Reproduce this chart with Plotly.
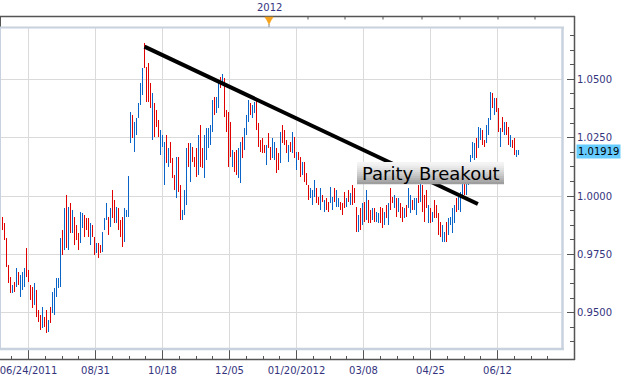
import plotly.graph_objects as go

# ---------------- data (daily OHLC) ----------------
opens = [
    0.9803, 0.9902, 0.9872, 0.9812, 0.9696, 0.9645, 0.9593, 0.9623, 0.9619, 0.9666,
    0.9585, 0.9610, 0.9619, 0.9692, 0.9675, 0.9610, 0.9598, 0.9542, 0.9585, 0.9503,
    0.9482, 0.9444, 0.9473, 0.9499, 0.9426, 0.9512, 0.9508, 0.9508, 0.9576, 0.9615,
    0.9619, 0.9838, 0.9782, 0.9940, 0.9786, 0.9949, 0.9851, 0.9898, 0.9868, 0.9833,
    0.9808, 0.9872, 0.9906, 0.9898, 0.9894, 0.9799, 0.9868, 0.9816, 0.9765, 0.9786,
    0.9782, 0.9769, 0.9864, 0.9906, 0.9902, 0.9876, 1.0013, 0.9970, 0.9894, 0.9936,
    0.9889, 0.9898, 0.9816, 0.9915, 0.9919, 1.0240,
    1.0334, 1.0202, 1.0270, 1.0343, 1.0399, 1.0441, 1.0583, 1.0540, 1.0549, 1.0467,
    1.0262, 1.0386, 1.0360, 1.0317, 1.0189, 1.0219, 1.0064, 1.0249, 1.0133, 1.0219,
    1.0155, 1.0082, 1.0005, 1.0155, 1.0034, 0.9906, 0.9928, 0.9979, 1.0215, 1.0073,
    1.0202, 1.0159, 1.0193, 1.0103, 1.0287, 1.0197, 1.0090, 1.0167, 1.0215, 1.0227,
    1.0287, 1.0416, 1.0364, 1.0390, 1.0501, 1.0484, 1.0493, 1.0360, 1.0339, 1.0304,
    1.0133, 1.0180, 1.0185, 1.0090, 1.0069, 1.0245, 1.0206, 1.0270, 1.0326, 1.0390,
    1.0343, 1.0364, 1.0407, 1.0304,
    1.0232, 1.0240, 1.0215, 1.0142, 1.0262, 1.0202, 1.0172, 1.0163, 1.0193, 1.0176,
    1.0150, 1.0296, 1.0275, 1.0232, 1.0155, 1.0223, 1.0193, 1.0245, 1.0120, 1.0185,
    1.0159, 1.0099, 1.0137, 1.0090, 1.0039, 1.0000, 0.9970, 1.0005, 1.0026, 0.9987,
    0.9949, 1.0000, 0.9940, 0.9983, 0.9966, 0.9979, 0.9949, 1.0026, 0.9962, 0.9962,
    0.9970, 0.9962, 1.0009, 0.9962, 1.0017, 0.9970, 1.0039, 1.0026, 0.9945, 0.9855,
    0.9940, 0.9885, 0.9966, 0.9906, 0.9975, 0.9932, 0.9906, 0.9940, 0.9898, 0.9894,
    0.9945, 0.9940, 0.9885,
    0.9953, 0.9885, 1.0026, 0.9992, 0.9957, 0.9983, 0.9940, 0.9962, 0.9945, 0.9915,
    0.9953, 0.9957, 0.9936, 0.9975, 0.9949, 0.9928, 1.0039, 0.9983, 1.0039, 0.9996,
    1.0017, 0.9894, 0.9940, 0.9898, 0.9975, 0.9953, 0.9919, 0.9881, 0.9812, 0.9812,
    0.9881, 0.9842, 0.9885, 0.9851, 0.9894, 0.9983, 0.9949, 0.9940, 1.0000, 1.0047,
    1.0013, 1.0056, 1.0112, 1.0172, 1.0163, 1.0240, 1.0215, 1.0249, 1.0275, 1.0236,
    1.0236, 1.0270, 1.0334, 1.0433, 1.0356, 1.0412, 1.0369, 1.0219, 1.0330, 1.0270,
    1.0309, 1.0287, 1.0219, 1.0232, 1.0240, 1.0172, 1.0180,
]

highs = [
    0.9885, 0.9911, 0.9885, 0.9821, 0.9705, 0.9653, 0.9619, 0.9632, 0.9692, 0.9675,
    0.9662, 0.9675, 0.9692, 0.9777, 0.9683, 0.9619, 0.9610, 0.9628, 0.9598, 0.9512,
    0.9491, 0.9525, 0.9482, 0.9512, 0.9469, 0.9525, 0.9589, 0.9606, 0.9649, 0.9649,
    0.9821, 0.9855, 0.9949, 1.0005, 0.9953, 0.9970, 0.9940, 0.9911, 0.9876, 0.9842,
    0.9932, 0.9928, 0.9919, 0.9906, 0.9906, 0.9885, 0.9876, 0.9825, 0.9799, 0.9799,
    0.9790, 0.9846, 0.9906, 0.9970, 0.9911, 0.9949, 1.0026, 0.9983, 0.9953, 0.9949,
    0.9898, 0.9911, 0.9949, 0.9940, 1.0086, 1.0360,
    1.0347, 1.0317, 1.0334, 1.0399, 1.0484, 1.0549, 1.0656, 1.0553, 1.0570, 1.0484,
    1.0441, 1.0399, 1.0369, 1.0326, 1.0283, 1.0262, 1.0232, 1.0262, 1.0206, 1.0232,
    1.0163, 1.0090, 1.0167, 1.0167, 1.0047, 0.9940, 1.0026, 1.0206, 1.0227, 1.0227,
    1.0210, 1.0167, 1.0206, 1.0262, 1.0304, 1.0206, 1.0262, 1.0292, 1.0292, 1.0304,
    1.0412, 1.0424, 1.0424, 1.0497, 1.0510, 1.0523, 1.0506, 1.0369, 1.0360, 1.0317,
    1.0197, 1.0189, 1.0197, 1.0206, 1.0232, 1.0253, 1.0292, 1.0347, 1.0412, 1.0399,
    1.0390, 1.0403, 1.0420, 1.0313,
    1.0240, 1.0249, 1.0219, 1.0219, 1.0270, 1.0210, 1.0249, 1.0232, 1.0206, 1.0185,
    1.0275, 1.0304, 1.0283, 1.0240, 1.0219, 1.0232, 1.0275, 1.0253, 1.0189, 1.0189,
    1.0167, 1.0146, 1.0146, 1.0099, 1.0047, 1.0034, 1.0026, 1.0069, 1.0034, 0.9996,
    1.0034, 1.0005, 0.9983, 0.9992, 0.9975, 1.0039, 0.9996, 1.0034, 1.0026, 0.9992,
    0.9975, 0.9970, 1.0017, 0.9992, 1.0026, 1.0013, 1.0047, 1.0034, 0.9953, 0.9919,
    0.9949, 0.9970, 0.9975, 1.0026, 0.9983, 0.9940, 0.9949, 0.9949, 0.9932, 0.9928,
    0.9953, 0.9949, 0.9932,
    0.9962, 0.9970, 1.0034, 0.9996, 1.0005, 0.9992, 0.9992, 0.9970, 0.9953, 0.9949,
    0.9962, 1.0034, 1.0005, 0.9983, 0.9992, 0.9992, 1.0047, 1.0056, 1.0047, 1.0005,
    1.0026, 0.9962, 0.9949, 0.9932, 0.9983, 0.9962, 0.9928, 0.9889, 0.9876, 0.9846,
    0.9889, 0.9906, 0.9911, 0.9949, 0.9962, 0.9992, 0.9996, 1.0017, 1.0090, 1.0056,
    1.0060, 1.0133, 1.0176, 1.0232, 1.0227, 1.0249, 1.0296, 1.0292, 1.0283, 1.0240,
    1.0304, 1.0334, 1.0446, 1.0441, 1.0420, 1.0420, 1.0377, 1.0292, 1.0339, 1.0317,
    1.0317, 1.0296, 1.0262, 1.0240, 1.0249, 1.0197, 1.0197,
]

lows = [
    0.9777, 0.9855, 0.9812, 0.9696, 0.9628, 0.9585, 0.9585, 0.9589, 0.9610, 0.9619,
    0.9568, 0.9598, 0.9610, 0.9653, 0.9632, 0.9555, 0.9520, 0.9533, 0.9482, 0.9461,
    0.9426, 0.9435, 0.9439, 0.9413, 0.9418, 0.9456, 0.9499, 0.9491, 0.9568, 0.9606,
    0.9610, 0.9748, 0.9769, 0.9777, 0.9769, 0.9842, 0.9842, 0.9790, 0.9812, 0.9769,
    0.9799, 0.9864, 0.9825, 0.9855, 0.9825, 0.9790, 0.9825, 0.9748, 0.9756, 0.9735,
    0.9756, 0.9760, 0.9855, 0.9898, 0.9833, 0.9868, 0.9906, 0.9885, 0.9885, 0.9855,
    0.9825, 0.9782, 0.9803, 0.9911, 0.9911, 1.0227,
    1.0249, 1.0189, 1.0262, 1.0334, 1.0390, 1.0433, 1.0549, 1.0403, 1.0403, 1.0377,
    1.0240, 1.0253, 1.0296, 1.0253, 1.0176, 1.0210, 1.0047, 1.0142, 1.0125, 1.0142,
    1.0077, 1.0026, 0.9992, 1.0017, 0.9898, 0.9898, 0.9919, 0.9962, 1.0125, 1.0060,
    1.0146, 1.0125, 1.0082, 1.0090, 1.0125, 1.0120, 1.0077, 1.0155, 1.0206, 1.0219,
    1.0275, 1.0347, 1.0356, 1.0377, 1.0463, 1.0476, 1.0339, 1.0275, 1.0125, 1.0167,
    1.0125, 1.0103, 1.0090, 1.0077, 1.0056, 1.0163, 1.0197, 1.0262, 1.0317, 1.0347,
    1.0334, 1.0356, 1.0283, 1.0210,
    1.0189, 1.0185, 1.0185, 1.0133, 1.0206, 1.0155, 1.0163, 1.0155, 1.0099, 1.0112,
    1.0142, 1.0227, 1.0219, 1.0185, 1.0146, 1.0189, 1.0185, 1.0163, 1.0112, 1.0155,
    1.0082, 1.0090, 1.0060, 1.0047, 0.9983, 0.9992, 0.9962, 0.9996, 0.9970, 0.9962,
    0.9940, 0.9975, 0.9932, 0.9940, 0.9932, 0.9970, 0.9940, 0.9975, 0.9953, 0.9953,
    0.9940, 0.9919, 0.9949, 0.9953, 0.9975, 0.9962, 0.9962, 0.9970, 0.9846, 0.9846,
    0.9855, 0.9876, 0.9889, 0.9898, 0.9885, 0.9885, 0.9898, 0.9889, 0.9889, 0.9885,
    0.9885, 0.9864, 0.9876,
    0.9906, 0.9876, 0.9940, 0.9970, 0.9949, 0.9911, 0.9932, 0.9906, 0.9889, 0.9906,
    0.9911, 0.9949, 0.9928, 0.9940, 0.9940, 0.9919, 0.9970, 0.9975, 0.9932, 0.9889,
    0.9949, 0.9885, 0.9885, 0.9889, 0.9906, 0.9906, 0.9833, 0.9825, 0.9803, 0.9803,
    0.9803, 0.9833, 0.9876, 0.9842, 0.9885, 0.9932, 0.9940, 0.9932, 0.9992, 1.0005,
    1.0005, 1.0047, 1.0103, 1.0163, 1.0155, 1.0163, 1.0206, 1.0240, 1.0219, 1.0210,
    1.0227, 1.0262, 1.0326, 1.0377, 1.0347, 1.0360, 1.0275, 1.0210, 1.0275, 1.0262,
    1.0262, 1.0219, 1.0210, 1.0206, 1.0176, 1.0167, 1.0176,
]

closes = [
    0.9864, 0.9868, 0.9825, 0.9709, 0.9640, 0.9593, 0.9610, 0.9598, 0.9679, 0.9628,
    0.9649, 0.9662, 0.9683, 0.9662, 0.9640, 0.9563, 0.9533, 0.9615, 0.9499, 0.9469,
    0.9435, 0.9512, 0.9448, 0.9426, 0.9461, 0.9465, 0.9576, 0.9598, 0.9640, 0.9640,
    0.9812, 0.9760, 0.9936, 0.9790, 0.9940, 0.9851, 0.9932, 0.9803, 0.9821, 0.9777,
    0.9919, 0.9919, 0.9833, 0.9864, 0.9838, 0.9876, 0.9833, 0.9756, 0.9790, 0.9743,
    0.9765, 0.9833, 0.9898, 0.9962, 0.9842, 0.9940, 0.9919, 0.9894, 0.9945, 0.9864,
    0.9833, 0.9799, 0.9936, 0.9936, 1.0073, 1.0347,
    1.0262, 1.0304, 1.0326, 1.0390, 1.0476, 1.0536, 1.0558, 1.0420, 1.0416, 1.0386,
    1.0424, 1.0266, 1.0304, 1.0262, 1.0270, 1.0253, 1.0219, 1.0155, 1.0197, 1.0150,
    1.0086, 1.0034, 1.0150, 1.0034, 0.9906, 0.9932, 1.0013, 1.0189, 1.0133, 1.0210,
    1.0155, 1.0133, 1.0094, 1.0249, 1.0142, 1.0129, 1.0249, 1.0279, 1.0283, 1.0296,
    1.0399, 1.0356, 1.0416, 1.0484, 1.0471, 1.0514, 1.0356, 1.0283, 1.0142, 1.0176,
    1.0189, 1.0112, 1.0099, 1.0193, 1.0219, 1.0172, 1.0283, 1.0339, 1.0403, 1.0356,
    1.0382, 1.0394, 1.0296, 1.0219,
    1.0197, 1.0193, 1.0189, 1.0210, 1.0215, 1.0163, 1.0240, 1.0223, 1.0107, 1.0120,
    1.0262, 1.0236, 1.0227, 1.0193, 1.0210, 1.0197, 1.0266, 1.0172, 1.0180, 1.0163,
    1.0090, 1.0137, 1.0069, 1.0056, 0.9992, 1.0026, 1.0017, 1.0060, 0.9979, 0.9970,
    1.0022, 0.9979, 0.9975, 0.9949, 0.9940, 1.0030, 0.9987, 0.9983, 1.0017, 0.9983,
    0.9945, 0.9928, 0.9957, 0.9983, 0.9983, 1.0005, 0.9970, 0.9979, 0.9855, 0.9911,
    0.9864, 0.9962, 0.9898, 1.0013, 0.9894, 0.9894, 0.9940, 0.9898, 0.9923, 0.9919,
    0.9894, 0.9872, 0.9923,
    0.9915, 0.9962, 0.9953, 0.9975, 0.9996, 0.9919, 0.9983, 0.9915, 0.9898, 0.9940,
    0.9919, 1.0026, 0.9996, 0.9949, 0.9983, 0.9983, 0.9979, 1.0047, 0.9940, 0.9898,
    0.9957, 0.9953, 0.9894, 0.9923, 0.9915, 0.9915, 0.9842, 0.9833, 0.9868, 0.9838,
    0.9812, 0.9898, 0.9902, 0.9940, 0.9953, 0.9940, 0.9987, 1.0009, 1.0082, 1.0013,
    1.0052, 1.0125, 1.0167, 1.0223, 1.0219, 1.0172, 1.0287, 1.0283, 1.0227, 1.0215,
    1.0296, 1.0326, 1.0437, 1.0386, 1.0412, 1.0369, 1.0283, 1.0283, 1.0283, 1.0309,
    1.0270, 1.0227, 1.0253, 1.0210, 1.0185, 1.0189, 1.01919,
]

bar_index = list(range(len(closes)))

tick_bars = [14, 47.5, 81, 114.5, 148, 181.5, 215, 248.5]
tick_labels = ["06/24/2011", "08/31", "10/18", "12/05", "01/20/2012", "03/08", "04/25", "06/12"]
price_ticks_start = 0.95
price_tick_step = 0.025

year_bar = 134.25
year_label = "2012"
month_bars = [153.75, 172.25, 191.25, 210.75, 229.75, 248.75, 267.25]

trend_x = [72, 238.7]
trend_y = [1.0640, 0.9966]

note_text = "Parity Breakout"

# ---------------- geometry / style ----------------
W, H = 624, 382
ML, MR, MT, MB = 0, 50, 16, 22
PW = W - ML - MR
PH = H - MT - MB


def px(x):
    return (x - ML) / PW


def py(y):
    return (H - MB - y) / PH


# exactly 2 px per bar, bar centres on pixel centres
x_range = [-0.25, 281.25]
y_range = [0.93449, 1.0720]
x_dom = [0, px(563)]
y_dom = [py(349), py(28)]

BLUE = "#0a64c8"
RED = "#e00000"
GRID = "#dadada"
FRAME = "#555555"
INNER = "#c8d2de"
LABEL = "#34347e"
FONT = "DejaVu Sans"
axis_font = dict(family=FONT, size=10, color=LABEL)

fig = go.Figure()
fig.add_trace(go.Ohlc(
    x=bar_index, open=opens, high=highs, low=lows, close=closes,
    increasing=dict(line=dict(color=BLUE, width=1)),
    decreasing=dict(line=dict(color=RED, width=1)),
    tickwidth=0, hoverinfo="skip", showlegend=False,
))
fig.add_trace(go.Scatter(
    x=trend_x, y=trend_y, mode="lines",
    line=dict(color="black", width=4),
    hoverinfo="skip", showlegend=False,
))
fig.add_trace(go.Scatter(x=[None], y=[None], xaxis="x2", yaxis="y2",
                         mode="markers", hoverinfo="skip", showlegend=False))

shapes = [
    # navigator strip
    dict(type="line", xref="paper", yref="paper", x0=0, x1=px(575), y0=py(16.5), y1=py(16.5),
         line=dict(color=FRAME, width=1.5)),
    dict(type="line", xref="paper", yref="paper", x0=px(0.5), x1=px(0.5), y0=py(16), y1=py(27),
         line=dict(color=FRAME, width=1)),
    # outer axis frame
    dict(type="line", xref="paper", yref="paper", x0=px(574.5), x1=px(574.5), y0=py(16), y1=py(360),
         line=dict(color=FRAME, width=1.5)),
    dict(type="line", xref="paper", yref="paper", x0=0, x1=px(575), y0=py(359.5), y1=py(359.5),
         line=dict(color=FRAME, width=1.5)),
    # inner plot border
    dict(type="line", xref="paper", yref="paper", x0=0, x1=px(564), y0=py(27.5), y1=py(27.5),
         line=dict(color=INNER, width=2)),
    dict(type="line", xref="paper", yref="paper", x0=px(562.5), x1=px(562.5), y0=py(27), y1=py(350),
         line=dict(color=INNER, width=2.5)),
    dict(type="line", xref="paper", yref="paper", x0=0, x1=px(564), y0=py(349), y1=py(349),
         line=dict(color=INNER, width=2.5)),
    dict(type="line", xref="paper", yref="paper", x0=px(0.5), x1=px(0.5), y0=py(27), y1=py(349),
         line=dict(color=INNER, width=1)),
]
for mb in month_bars:
    shapes.append(dict(type="line", xref="x", yref="paper", x0=mb, x1=mb, y0=py(16), y1=py(19.5),
                       line=dict(color=FRAME, width=1)))
# year marker (orange pin)
shapes.append(dict(
    type="path", xref="x", yref="paper",
    path=f"M {year_bar-2.1},{py(17)} L {year_bar+2.1},{py(17)} L {year_bar+1.0},{py(20.5)} "
         f"L {year_bar},{py(24.5)} L {year_bar-1.0},{py(20.5)} Z",
    fillcolor="#f5a21c", line=dict(color="#f5a21c", width=0.5)))
shapes.append(dict(type="line", xref="x", yref="paper", x0=year_bar, x1=year_bar, y0=py(24), y1=py(27),
                   line=dict(color="#888888", width=1)))

# gradient box behind the note
bx0, bx1, by0, by1 = 357, 504, 162, 184
nstrip = 11
c_top, c_bot = (244, 244, 244), (158, 158, 158)
for k in range(nstrip):
    t = k / (nstrip - 1)
    c = tuple(int(round(c_top[j] + (c_bot[j] - c_top[j]) * t ** 1.3)) for j in range(3))
    ya = by0 + (by1 - by0) * k / nstrip
    yb = by0 + (by1 - by0) * (k + 1) / nstrip
    shapes.append(dict(type="rect", xref="paper", yref="paper", x0=px(bx0), x1=px(bx1),
                       y0=py(ya), y1=py(yb + 0.3), fillcolor=f"rgb{c}", line=dict(width=0)))

annotations = [
    dict(x=year_bar, xref="x", y=py(8), yref="paper", text=year_label, showarrow=False,
         font=axis_font, xanchor="center", yanchor="middle"),
    dict(x=1, xref="paper", y=closes[-1], yref="y", text=f"{closes[-1]:.5f}", showarrow=False,
         xanchor="left", yanchor="middle", xshift=2,
         font=dict(family=FONT, size=10, color="black"), bgcolor="#66ccff", borderpad=1),
    dict(x=px((bx0 + bx1) / 2), xref="paper", y=py((by0 + by1) / 2 + 0.5), yref="paper",
         text=note_text, showarrow=False, xanchor="center", yanchor="middle",
         font=dict(family=FONT, size=18, color="black")),
]

fig.update_layout(
    width=W, height=H,
    margin=dict(l=ML, r=MR, t=MT, b=MB, pad=0),
    paper_bgcolor="white", plot_bgcolor="white",
    showlegend=False, hovermode=False,
    xaxis=dict(domain=x_dom, range=x_range, tickmode="array", tickvals=tick_bars,
               showticklabels=False, ticks="", showgrid=True, gridcolor=GRID, gridwidth=1,
               zeroline=False, showline=False, rangeslider=dict(visible=False)),
    yaxis=dict(domain=y_dom, range=y_range, tickmode="linear", tick0=price_ticks_start,
               dtick=price_tick_step, showticklabels=False, ticks="", showgrid=True,
               gridcolor=GRID, gridwidth=1, zeroline=False, showline=False),
    xaxis2=dict(overlaying="x", anchor="free", position=0, range=x_range,
                tickmode="array", tickvals=tick_bars, ticktext=tick_labels,
                ticks="inside", ticklen=10, tickwidth=1, tickcolor=FRAME,
                minor=dict(tickmode="linear", tick0=tick_bars[0], dtick=(tick_bars[1] - tick_bars[0]) / 4,
                           ticks="inside", ticklen=4, tickwidth=1, tickcolor=FRAME, showgrid=False),
                showgrid=False, zeroline=False, showline=False, tickfont=axis_font,
                ticklabelstandoff=3, ticklabeloverflow="allow"),
    yaxis2=dict(overlaying="y", anchor="free", position=1, side="right", range=y_range,
                tickmode="linear", tick0=price_ticks_start, dtick=price_tick_step, tickformat=".4f",
                ticks="inside", ticklen=7, tickwidth=1, tickcolor=FRAME,
                minor=dict(tickmode="linear", tick0=price_ticks_start, dtick=price_tick_step / 4,
                           ticks="inside", ticklen=4, tickwidth=1, tickcolor=FRAME, showgrid=False),
                showgrid=False, zeroline=False, showline=False, tickfont=axis_font,
                ticklabelstandoff=2, ticklabeloverflow="allow"),
    shapes=shapes,
    annotations=annotations,
)

# page styling: no body margin, crisp 1px OHLC bars
page_js = (
    "document.body.style.margin='0px';"
    "document.querySelectorAll('.ohlc path').forEach(function(p){p.style.shapeRendering='crispEdges';});"
)

fig.write_html("out.html", post_script=page_js,
               config={"displayModeBar": False, "staticPlot": True})
